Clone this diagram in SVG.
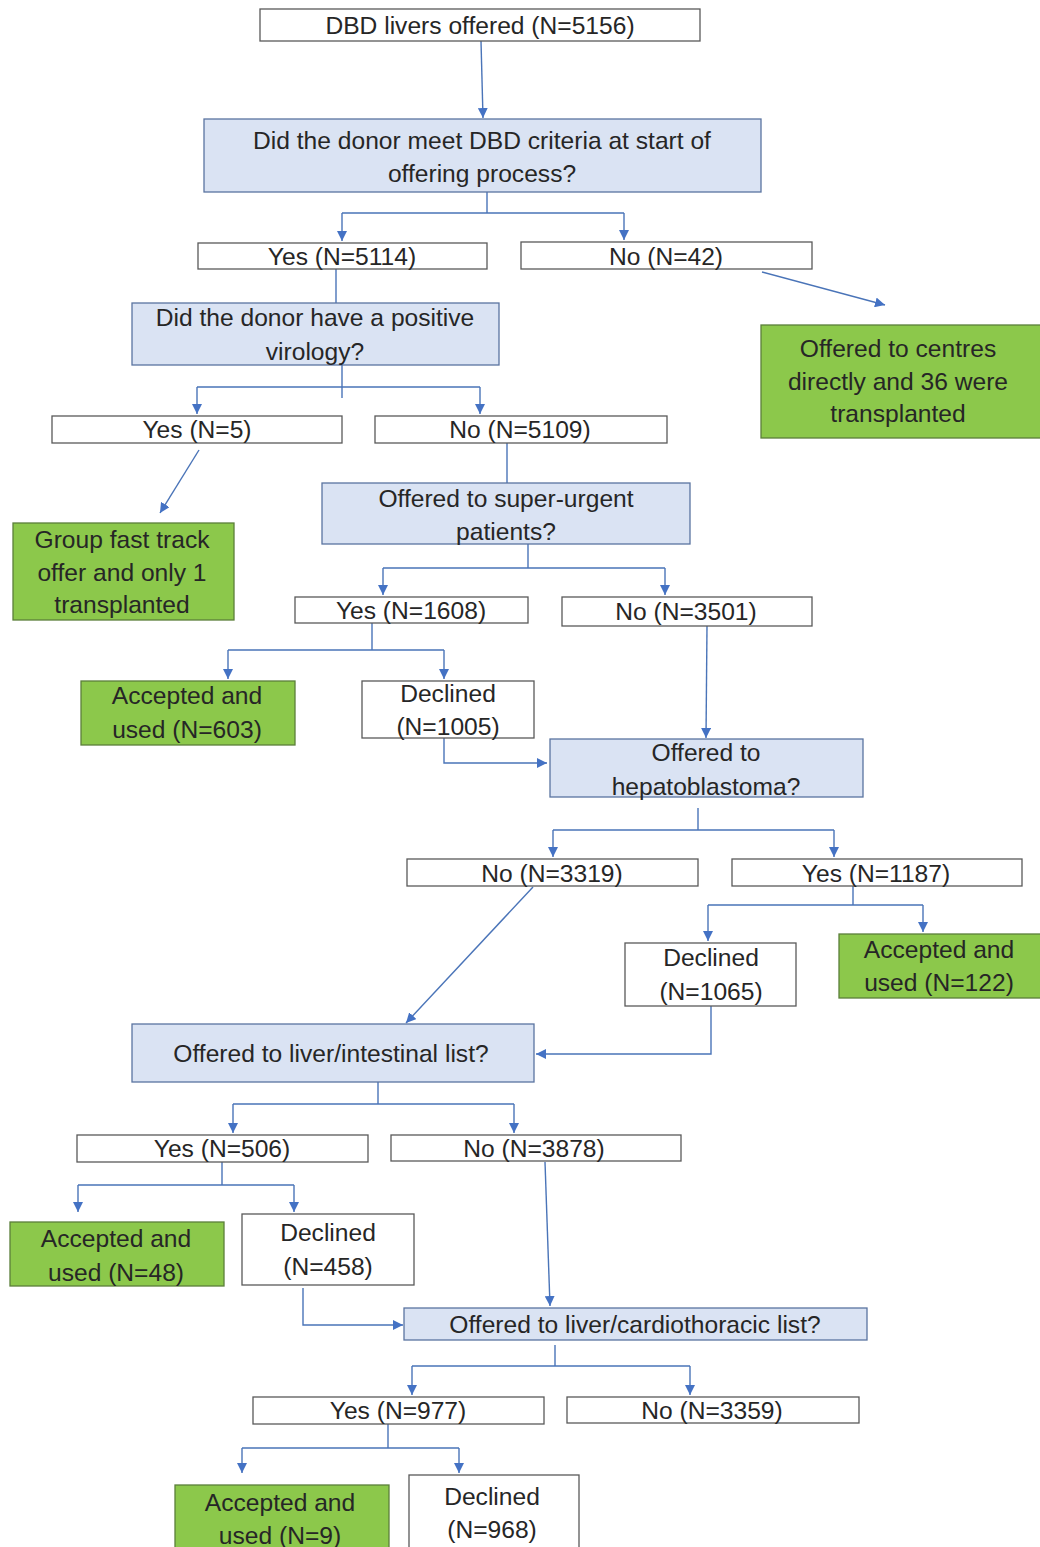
<svg xmlns="http://www.w3.org/2000/svg" width="1040" height="1547" viewBox="0 0 1040 1547">
<defs>
<marker id="ah" viewBox="0 0 10 10" refX="10" refY="5" markerWidth="10" markerHeight="10" markerUnits="userSpaceOnUse" orient="auto">
<path d="M0,0 L10,5 L0,10 z" fill="#4472c4"/>
</marker>
</defs>
<style>
text{font-family:"Liberation Sans",Arial,sans-serif;font-size:24.6px;fill:#262626;text-anchor:middle}
.w{fill:#ffffff;stroke:#595959;stroke-width:1.3}
.b{fill:#dae3f3;stroke:#5a74a0;stroke-width:1.3}
.g{fill:#8cc84b;stroke:#5b7f3a;stroke-width:1.3}
.c path{fill:none;stroke:#4a74b8;stroke-width:1.4}
.c .a{marker-end:url(#ah)}
</style>
<rect width="1040" height="1547" fill="#ffffff"/>

<g class="c" id="connectors">
<path class="a" d="M481,41 L483,118"/>
<path d="M487,192 V213 M342,213 H624"/>
<path class="a" d="M342,213 V241"/>
<path class="a" d="M624,213 V240"/>
<path class="a" d="M762,272 L885,305"/>
<path d="M336,269 V303"/>
<path d="M342,365 V398 M197,387 H480"/>
<path class="a" d="M197,387 V414"/>
<path class="a" d="M480,387 V414"/>
<path class="a" d="M199,450 L160,513"/>
<path d="M507,443 V483"/>
<path d="M528,544 V568 M383,568 H665"/>
<path class="a" d="M383,568 V595"/>
<path class="a" d="M665,568 V595"/>
<path d="M372,623 V650 M228,650 H444"/>
<path class="a" d="M228,650 V679"/>
<path class="a" d="M444,650 V679"/>
<path class="a" d="M707,626 L706,738"/>
<path class="a" d="M444,738 V763 H547"/>
<path d="M698,808 V830 M553,830 H834"/>
<path class="a" d="M553,830 V857"/>
<path class="a" d="M834,830 V857"/>
<path d="M853,886 V905 M708,905 H923"/>
<path class="a" d="M708,905 V941"/>
<path class="a" d="M923,905 V932"/>
<path class="a" d="M533,887 L406,1023"/>
<path class="a" d="M711,1006 V1054 H536"/>
<path d="M378,1082 V1104 M233,1104 H514"/>
<path class="a" d="M233,1104 V1133"/>
<path class="a" d="M514,1104 V1133"/>
<path d="M222,1162 V1185 M78,1185 H294"/>
<path class="a" d="M78,1185 V1212"/>
<path class="a" d="M294,1185 V1212"/>
<path class="a" d="M545,1162 L550,1306"/>
<path class="a" d="M303,1288 V1325 H403"/>
<path d="M555,1345 V1366 M412,1366 H690"/>
<path class="a" d="M412,1366 V1395"/>
<path class="a" d="M690,1366 V1395"/>
<path d="M388,1424 V1448 M242,1448 H459"/>
<path class="a" d="M242,1448 V1473"/>
<path class="a" d="M459,1448 V1473"/>
</g>

<g id="n_offered"><rect class="w" x="260" y="9" width="440" height="32"/><text x="480" y="34">DBD livers offered (N=5156)</text></g>
<g id="n_criteria"><rect class="b" x="204" y="119" width="557" height="73"/><text x="482" y="149">Did the donor meet DBD criteria at start of</text><text x="482" y="182">offering process?</text></g>
<g id="n_yes5114"><rect class="w" x="198" y="243" width="289" height="26"/><text x="342" y="265">Yes (N=5114)</text></g>
<g id="n_no42"><rect class="w" x="521" y="242" width="291" height="27"/><text x="666" y="265">No (N=42)</text></g>
<g id="n_centres"><rect class="g" x="761" y="325" width="285" height="113"/><text x="898" y="357">Offered to centres</text><text x="898" y="390">directly and 36 were</text><text x="898" y="422">transplanted</text></g>
<g id="n_virology"><rect class="b" x="132" y="303" width="367" height="62"/><text x="315" y="326">Did the donor have a positive</text><text x="315" y="360">virology?</text></g>
<g id="n_yes5"><rect class="w" x="52" y="416" width="290" height="27"/><text x="197" y="438">Yes (N=5)</text></g>
<g id="n_no5109"><rect class="w" x="375" y="416" width="292" height="27"/><text x="520" y="438">No (N=5109)</text></g>
<g id="n_fasttrack"><rect class="g" x="13" y="523" width="221" height="97"/><text x="122" y="548">Group fast track</text><text x="122" y="581">offer and only 1</text><text x="122" y="613">transplanted</text></g>
<g id="n_superurgent"><rect class="b" x="322" y="483" width="368" height="61"/><text x="506" y="507">Offered to super-urgent</text><text x="506" y="540">patients?</text></g>
<g id="n_yes1608"><rect class="w" x="295" y="597" width="233" height="26"/><text x="411" y="619">Yes (N=1608)</text></g>
<g id="n_no3501"><rect class="w" x="562" y="597" width="250" height="29"/><text x="686" y="620">No (N=3501)</text></g>
<g id="n_acc603"><rect class="g" x="81" y="681" width="214" height="64"/><text x="187" y="704">Accepted and</text><text x="187" y="738">used (N=603)</text></g>
<g id="n_dec1005"><rect class="w" x="362" y="681" width="172" height="57"/><text x="448" y="702">Declined</text><text x="448" y="735">(N=1005)</text></g>
<g id="n_hepato"><rect class="b" x="550" y="739" width="313" height="58"/><text x="706" y="761">Offered to</text><text x="706" y="795">hepatoblastoma?</text></g>
<g id="n_no3319"><rect class="w" x="407" y="859" width="291" height="27"/><text x="552" y="882">No (N=3319)</text></g>
<g id="n_yes1187"><rect class="w" x="732" y="859" width="290" height="27"/><text x="876" y="882">Yes (N=1187)</text></g>
<g id="n_dec1065"><rect class="w" x="625" y="943" width="171" height="63"/><text x="711" y="966">Declined</text><text x="711" y="1000">(N=1065)</text></g>
<g id="n_acc122"><rect class="g" x="839" y="934" width="205" height="64"/><text x="939" y="958">Accepted and</text><text x="939" y="991">used (N=122)</text></g>
<g id="n_intestinal"><rect class="b" x="132" y="1024" width="402" height="58"/><text x="331" y="1062">Offered to liver/intestinal list?</text></g>
<g id="n_yes506"><rect class="w" x="77" y="1135" width="291" height="27"/><text x="222" y="1157">Yes (N=506)</text></g>
<g id="n_no3878"><rect class="w" x="391" y="1135" width="290" height="26"/><text x="534" y="1157">No (N=3878)</text></g>
<g id="n_acc48"><rect class="g" x="10" y="1222" width="214" height="64"/><text x="116" y="1247">Accepted and</text><text x="116" y="1281">used (N=48)</text></g>
<g id="n_dec458"><rect class="w" x="242" y="1214" width="172" height="71"/><text x="328" y="1241">Declined</text><text x="328" y="1275">(N=458)</text></g>
<g id="n_cardio"><rect class="b" x="404" y="1308" width="463" height="32"/><text x="635" y="1333">Offered to liver/cardiothoracic list?</text></g>
<g id="n_yes977"><rect class="w" x="253" y="1397" width="291" height="27"/><text x="398" y="1419">Yes (N=977)</text></g>
<g id="n_no3359"><rect class="w" x="567" y="1397" width="292" height="26"/><text x="712" y="1419">No (N=3359)</text></g>
<g id="n_acc9"><rect class="g" x="175" y="1485" width="214" height="70"/><text x="280" y="1511">Accepted and</text><text x="280" y="1544">used (N=9)</text></g>
<g id="n_dec968"><rect class="w" x="409" y="1475" width="170" height="80"/><text x="492" y="1505">Declined</text><text x="492" y="1538">(N=968)</text></g>
</svg>
